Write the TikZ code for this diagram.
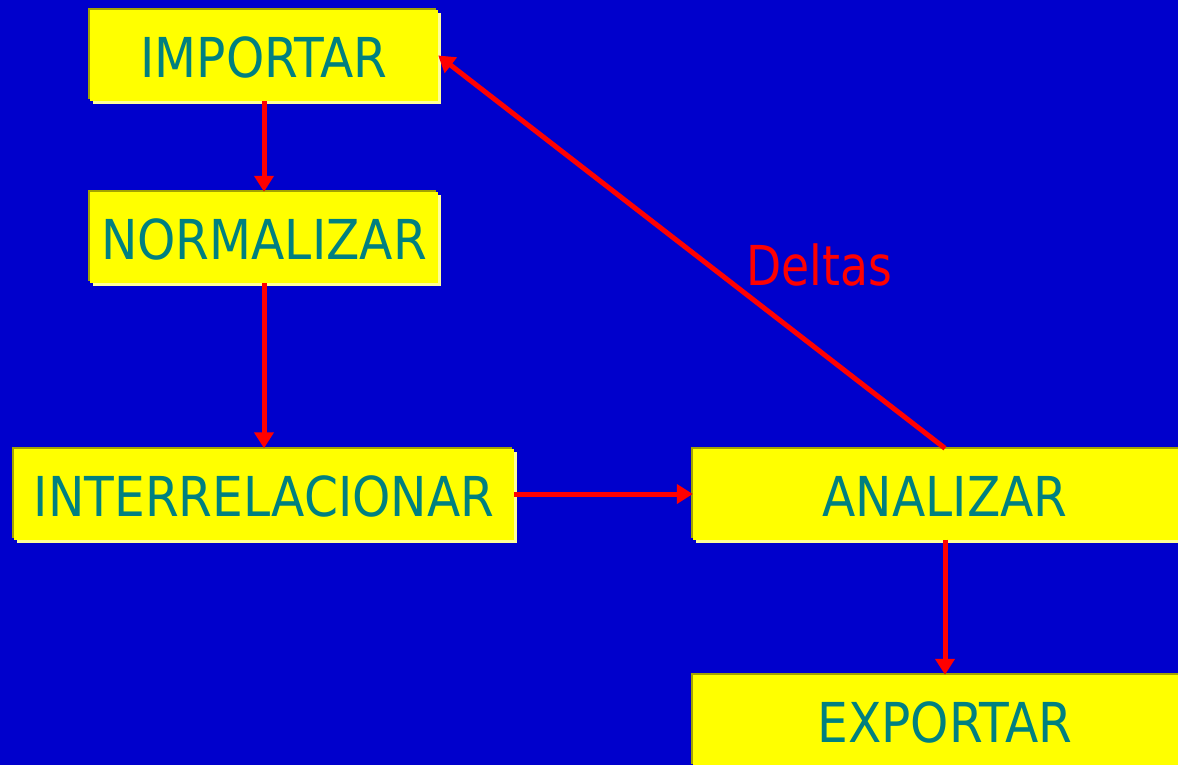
\documentclass[tikz,border=0pt]{standalone}
\usepackage{fontspec}
\setmainfont{DejaVu Sans}[FakeStretch=0.885]
\newfontfamily\deltafont{DejaVu Sans}[FakeStretch=0.83]
\usetikzlibrary{arrows.meta}
\definecolor{bgblue}{HTML}{0000CC}
\definecolor{boxyel}{HTML}{FFFF00}
\definecolor{boxolive}{HTML}{A3A300}
\definecolor{boxlight}{HTML}{FFFF99}
\definecolor{txteal}{HTML}{008080}
\definecolor{arrred}{HTML}{FF0000}
\tikzset{
  stepbox/.style={draw=none, fill=boxyel, text=txteal, inner sep=0pt,
    minimum height=91pt, align=center, text height=44pt, text depth=0pt,
    font=\fontsize{55}{60}\selectfont,
    preaction={fill=boxlight, transform canvas={shift={(3pt,-3pt)}}},
    preaction={fill=boxolive, transform canvas={shift={(-2pt,2pt)}}}},
  flow/.style={draw=arrred, line width=5pt, -{Triangle[width=19pt,length=16pt]}},
  lbl/.style={text=arrred, inner sep=0pt, font=\deltafont\fontsize{55}{60}\selectfont}
}
\begin{document}
\begin{tikzpicture}[x=1pt,y=-1pt]
\useasboundingbox (0,0) rectangle (1178,765);
\clip (0,0) rectangle (1178,765);
\fill[bgblue] (0,0) rectangle (1178,765);
\node[stepbox, minimum width=348pt] (imp) at (264,55.5) {IMPORTAR};
\node[stepbox, minimum width=348pt] (nor) at (264,237.5) {NORMALIZAR};
\node[stepbox, minimum width=500pt] (int) at (264,494) {INTERRELACIONAR};
\node[stepbox, minimum width=504pt] (ana) at (945,494) {ANALIZAR};
\node[stepbox, minimum width=504pt] (exp) at (945,720.5) {EXPORTAR};
\node[lbl, anchor=base] (del) at (819,285) {Deltas};
\draw[flow] (imp.south) -- (nor.north);
\draw[flow] (nor.south) -- (int.north);
\draw[flow] (int.east) -- (ana.west);
\draw[flow] (ana.south) -- (exp.north);
\draw[flow] (ana.north) -- (imp.east);
\end{tikzpicture}
\end{document}
